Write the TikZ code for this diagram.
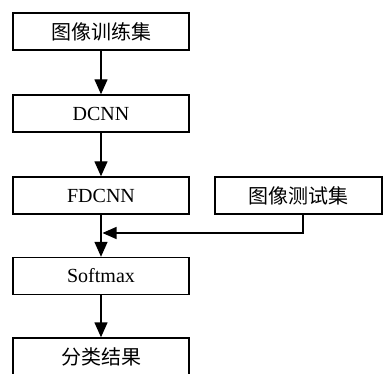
\documentclass[tikz,border=0pt]{standalone}
\usepackage{fontspec}
\setmainfont{Liberation Serif}
\newfontfamily\cjk{Noto Sans CJK SC}
\usetikzlibrary{arrows.meta}
\begin{document}
\begin{tikzpicture}[x=1pt,y=-1pt,
  box/.style={draw,line width=1.4pt,minimum width=176pt,minimum height=37pt,inner sep=0pt,font=\fontsize{20}{22}\selectfont},
  flow/.style={line width=1.4pt,-{Triangle[width=13pt,length=15pt]}}]
\useasboundingbox (0,0) rectangle (383,374);
\clip (0,0) rectangle (383,374);
\node[box] (train) at (101,31.5) {\cjk 图像训练集};
\node[box] (dcnn) at (101,113.5) {DCNN};
\node[box] (fdcnn) at (101,195.5) {FDCNN};
\node[box,minimum width=167pt] (test) at (298.5,195.5) {\cjk 图像测试集};
\node[box] (soft) at (101,276) {Softmax};
\node[box] (res) at (101,356.5) {\cjk 分类结果};
\coordinate (drop) at (303,214);
\coordinate (turn) at (303,233);
\coordinate (join) at (101,233);
\draw[flow] (train) -- (dcnn);
\draw[flow] (dcnn) -- (fdcnn);
\draw[flow] (fdcnn) -- (soft);
\draw[flow] (soft) -- (res);
\draw[line width=1.4pt,-{Triangle[width=12pt,length=14pt]}] (drop) -- (turn) -- ([xshift=1.5pt]join);
\end{tikzpicture}
\end{document}
